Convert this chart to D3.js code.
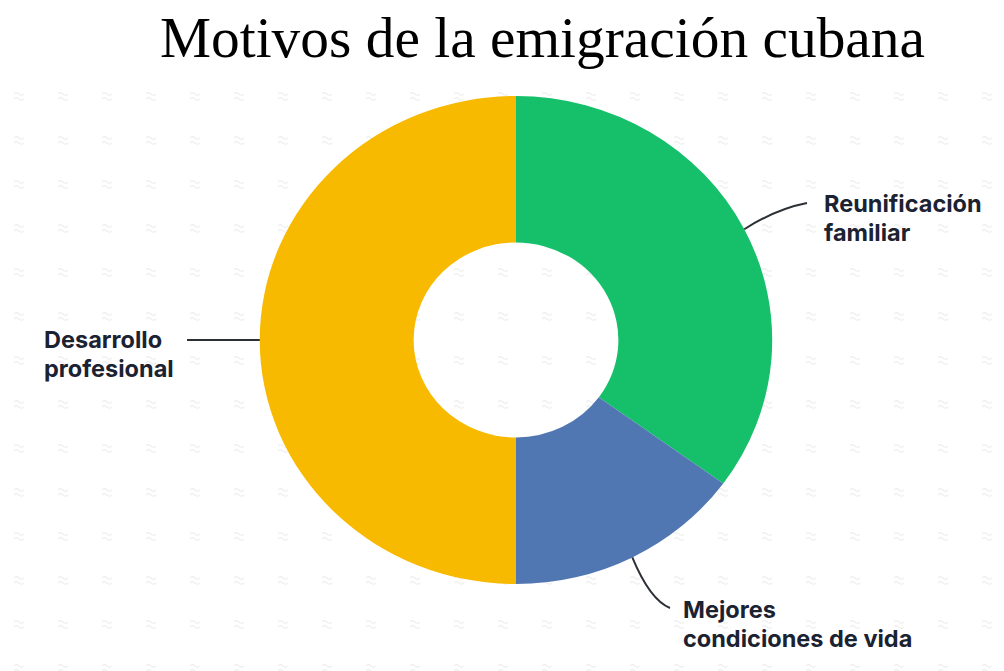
<!DOCTYPE html>
<html>
<head>
<meta charset="utf-8">
<script src="https://cdn.jsdelivr.net/npm/d3@7"></script>
<style>
  body { margin: 0; background: #fff; }
  svg { display: block; }
</style>
</head>
<body>
<div id="chart"></div>
<script>
// datos del gráfico
const categories = ["Reunificación familiar", "Mejores condiciones de vida", "Desarrollo profesional"]
const values = [35, 15, 50]
const colors = ["#16c06b", "#5177b3", "#f8ba00"]
const titleText = "Motivos de la emigración cubana"

const width = 1004, height = 671
const cx = 516, cy = 340
const sx = 1.05 // la imagen está algo estirada en horizontal
const outerR = 244, innerR = 97.5

const svg = d3.select("#chart").append("svg")
    .attr("width", width)
    .attr("height", height)

// fondo con marcas tenues
const defs = svg.append("defs")
const pat = defs.append("pattern")
    .attr("id", "bg")
    .attr("patternUnits", "userSpaceOnUse")
    .attr("width", 44)
    .attr("height", 44)
    .attr("x", 14)
    .attr("y", 92)
pat.append("path")
    .attr("d", "M0,2 q2.5,-2.5 5,0 t5,0 M0,7 q2.5,-2.5 5,0 t5,0")
    .attr("fill", "none")
    .attr("stroke", "#f0f0f0")
    .attr("stroke-width", 1.3)
svg.append("rect")
    .attr("x", 0).attr("y", 88)
    .attr("width", width).attr("height", height - 88)
    .attr("fill", "url(#bg)")

// título
svg.append("text")
    .attr("x", 160)
    .attr("y", 57)
    .attr("font-family", "Liberation Serif, Times New Roman, serif")
    .attr("font-size", 56)
    .attr("fill", "#000")
    .attr("textLength", 765)
    .attr("lengthAdjust", "spacingAndGlyphs")
    .text(titleText)

const pie = d3.pie().sort(null).value(d => d)
const arcs = pie(values)

const arc = d3.arc().innerRadius(innerR).outerRadius(outerR)

const g = svg.append("g")
    .attr("transform", `translate(${cx},${cy}) scale(${sx},1)`)

g.selectAll("path")
    .data(arcs)
    .enter()
    .append("path")
    .attr("d", arc)
    .attr("fill", (d, i) => colors[i])

// punto en el borde exterior, en el ángulo medio de cada trozo
function edgePoint(d) {
    let a = (d.startAngle + d.endAngle) / 2
    return [cx + outerR * sx * Math.sin(a), cy - outerR * Math.cos(a)]
}

// etiquetas: final de la línea, control de la curva, posición del texto
const labelLayout = [
    { end: [807, 203], ctrl: [776, 209], tx: 824, ty: 212, lines: ["Reunificación", "familiar"] },
    { end: [670, 608], ctrl: [650, 600], tx: 683, ty: 618, lines: ["Mejores", "condiciones de vida"] },
    { end: [187, 340], ctrl: [222, 340], tx: 44, ty: 348, lines: ["Desarrollo", "profesional"] }
]

const labels = svg.append("g")
arcs.forEach((d, i) => {
    let L = labelLayout[i]
    let p = edgePoint(d)
    labels.append("path")
        .attr("d", `M${p[0]},${p[1]} Q${L.ctrl[0]},${L.ctrl[1]} ${L.end[0]},${L.end[1]}`)
        .attr("fill", "none")
        .attr("stroke", "#2b2f36")
        .attr("stroke-width", 2)
    let t = labels.append("text")
        .attr("x", L.tx)
        .attr("y", L.ty)
        .attr("font-family", "Inter, Roboto, sans-serif")
        .attr("font-weight", 700)
        .attr("font-size", 23.5)
        .attr("fill", "#1b2231")
    L.lines.forEach((s, j) => {
        t.append("tspan")
            .attr("x", L.tx)
            .attr("dy", j == 0 ? 0 : 29)
            .text(s)
    })
})
</script>
</body>
</html>
